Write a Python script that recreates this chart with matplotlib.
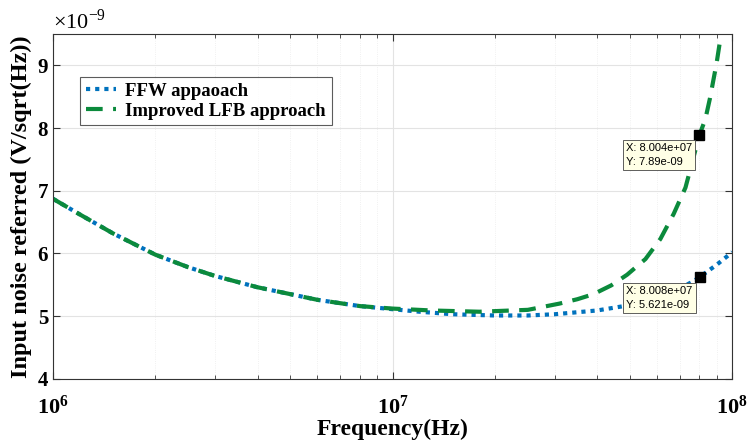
import matplotlib.pyplot as plt
from matplotlib.ticker import LogLocator, FixedLocator, NullFormatter

plt.rcParams['font.family'] = ['Liberation Serif', 'DejaVu Serif']
plt.rcParams['mathtext.fontset'] = 'custom'
plt.rcParams['mathtext.rm'] = 'Liberation Serif'
plt.rcParams['mathtext.bf'] = 'Liberation Serif:bold'

# (Hz, V/sqrt(Hz) in units of 1e-9)
ffw_freq = [1.0e6, 1.2e6, 1.5e6, 2.0e6, 2.5e6, 3.0e6, 4.0e6, 5.0e6, 6.0e6, 8.0e6,
            1.0e7, 1.2e7, 1.5e7, 2.0e7, 2.5e7, 3.0e7, 4.0e7, 4.8e7, 6.0e7, 7.0e7,
            7.7e7, 8.008e7, 9.0e7, 1.0e8]
ffw_noise = [6.87, 6.62, 6.32, 5.98, 5.78, 5.64, 5.46, 5.35, 5.26, 5.16,
             5.11, 5.07, 5.03, 5.01, 5.01, 5.03, 5.09, 5.16, 5.30, 5.44,
             5.56, 5.621, 5.82, 6.02]
lfb_freq = [1.0e6, 1.2e6, 1.5e6, 2.0e6, 2.5e6, 3.0e6, 4.0e6, 5.0e6, 6.0e6, 8.0e6,
            1.0e7, 1.3e7, 1.8e7, 2.5e7, 3.1e7, 3.5e7, 3.9e7, 4.4e7, 4.9e7, 5.55e7,
            6.14e7, 6.72e7, 7.28e7, 8.004e7, 8.33e7, 8.6e7, 9.0e7, 9.27e7, 9.6e7]
lfb_noise = [6.87, 6.62, 6.32, 5.98, 5.78, 5.64, 5.46, 5.35, 5.26, 5.16,
             5.12, 5.09, 5.07, 5.10, 5.20, 5.27, 5.35, 5.49, 5.66, 5.91,
             6.23, 6.63, 7.05, 7.89, 8.14, 8.48, 9.05, 9.50, 10.0]
ffw_noise = [v * 1e-9 for v in ffw_noise]
lfb_noise = [v * 1e-9 for v in lfb_noise]

tips = [(8.004e7, 7.89e-9, 'X: 8.004e+07\nY: 7.89e-09', -6.0),
        (8.008e7, 5.621e-9, 'X: 8.008e+07\nY: 5.621e-09', -6.5)]

fig = plt.figure(figsize=(7.48, 4.41), dpi=100)
ax = fig.add_axes([0.071, 0.141, 0.908, 0.782])

ax.plot(ffw_freq, ffw_noise, color='#0072BD', linestyle=(0, (1, 1.2)), linewidth=3,
        label='FFW appaoach')
ax.plot(lfb_freq, lfb_noise, color='#0b8a3c', linestyle=(0, (4, 2.5)), linewidth=3,
        label='Improved LFB approach')

ax.set_xscale('log')
ax.set_xlim(1e6, 1e8)
ax.set_ylim(4e-9, 9.5e-9)
ax.set_xticks([1e6, 1e7, 1e8], [r'$\mathbf{10^{6}}$', r'$\mathbf{10^{7}}$', r'$\mathbf{10^{8}}$'])
ax.yaxis.set_major_locator(FixedLocator([4e-9, 5e-9, 6e-9, 7e-9, 8e-9, 9e-9]))
ax.set_yticklabels(['4', '5', '6', '7', '8', '9'])
ax.xaxis.set_minor_locator(LogLocator(base=10, subs=range(2, 10)))
ax.xaxis.set_minor_formatter(NullFormatter())

ax.grid(True, which='major', color='#e3e3e3', linewidth=0.8)
ax.grid(True, which='minor', axis='x', color='#ececec', linewidth=0.6, linestyle=':')
ax.set_axisbelow(True)
ax.tick_params(which='both', direction='in', top=True, right=True, color='#333333')
ax.tick_params(which='major', length=5, labelsize=15)
ax.tick_params(axis='x', which='major', pad=12, labelsize=16)
ax.tick_params(which='minor', length=3)
for lbl in ax.get_xticklabels() + ax.get_yticklabels():
    lbl.set_fontweight('bold')
for sp in ax.spines.values():
    sp.set_color('#333333')
    sp.set_linewidth(0.8)

ax.text(0.0, 1.0, r'$\times 10^{-9}$', transform=ax.transAxes, fontsize=16,
        ha='left', va='bottom')

ax.set_xlabel('Frequency(Hz)', fontsize=17, fontweight='bold', labelpad=0)
ax.set_ylabel('Input noise referred (V/sqrt(Hz))', fontsize=17.5, fontweight='bold',
              labelpad=4)

leg = ax.legend(loc='upper left', bbox_to_anchor=(0.04, 0.875),
                prop={'weight': 'bold', 'size': 13.5}, handlelength=1.6,
                frameon=True, fancybox=False, borderpad=0.3, labelspacing=0.15,
                handletextpad=0.5, borderaxespad=0)
leg.get_frame().set_edgecolor('#333333')
leg.get_frame().set_linewidth(0.8)

for x, y, txt, dy in tips:
    ax.plot([x], [y], marker='s', color='black', markersize=7, linestyle='none')
    ax.annotate(txt, xy=(x, y), xytext=(-53, dy), textcoords='offset points',
                fontsize=8, family='Liberation Sans', va='top', ha='left',
                linespacing=1.45,
                bbox=dict(boxstyle='square,pad=0.3', fc='#ffffe6', ec='#444444', lw=0.6))

fig.savefig('out.png', dpi=100)
